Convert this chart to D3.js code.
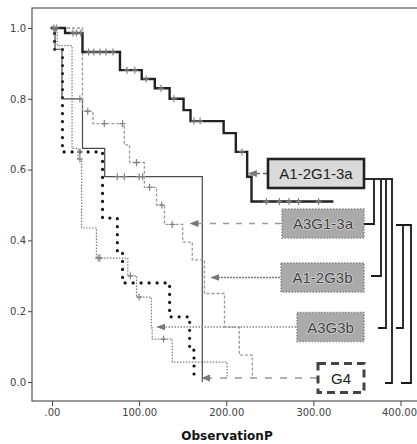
<!DOCTYPE html>
<html>
<head>
<meta charset="utf-8">
<script src="https://d3js.org/d3.v7.min.js"></script>
<style>
  body { margin: 0; background: #fff; }
  text { font-family: "DejaVu Sans", sans-serif; }
</style>
</head>
<body>
<div id="chart"></div>
<script>
// ---- data (time, survival) ----
var groups = ["A1-2G1-3a", "A3G1-3a", "A1-2G3b", "A3G3b", "G4"];

var timesA12G13a = [0, 15, 35, 78, 103, 118, 135, 151, 159, 197, 211, 224, 229, 323];
var survA12G13a  = [1.0, 0.986, 0.932, 0.881, 0.856, 0.83, 0.80, 0.768, 0.737, 0.703, 0.65, 0.58, 0.51, 0.51];
var censA12G13a  = [2, 5, 24, 28, 33, 42, 48, 55, 62, 70, 86, 95, 108, 125, 140, 163, 170, 218, 246, 261, 272, 283, 306];

var timesA3G13a = [0, 35, 47, 83, 89, 106, 120, 129, 150, 161, 175, 198, 215, 230];
var survA3G13a  = [1.0, 0.765, 0.73, 0.67, 0.62, 0.55, 0.50, 0.445, 0.395, 0.345, 0.25, 0.155, 0.076, 0.01];
var censA3G13a  = [41, 60, 81, 97, 112, 126, 138];

var timesA12G3b = [0, 3.5, 11.5, 35, 60.5, 172.5];
var survA12G3b  = [1.0, 0.94, 0.80, 0.66, 0.58, 0.0];
var censA12G3b  = [32, 75, 83, 100, 104];

var timesA3G3b = [0, 6, 23, 30, 34, 51, 87, 97, 114, 115, 138, 201];
var survA3G3b  = [1.0, 0.95, 0.66, 0.63, 0.435, 0.35, 0.30, 0.24, 0.153, 0.121, 0.056, 0.015];
var censA3G3b  = [32, 53, 55, 90, 100, 128];

var timesG4 = [0, 3, 12, 58, 75, 81, 135, 158, 163];
var survG4  = [1.0, 0.94, 0.65, 0.463, 0.37, 0.28, 0.184, 0.09, 0.01];
var censG4  = [32];

// where each label's arrow points (time on the x axis)
var arrowTimes = [226, 159, 183, 121, 172.5];

var xTicks = [0, 100, 200, 300, 400];
var yTicks = [0, 0.2, 0.4, 0.6, 0.8, 1.0];

// ---- layout ----
var W = 417, H = 444;
var svg = d3.select("#chart").append("svg")
    .attr("width", W).attr("height", H);

var x = d3.scaleLinear().domain([0, 400]).range([52, 400.5]);
var y = d3.scaleLinear().domain([0, 1]).range([382, 28]);

var frame = {left: 32, top: 8, bottom: 401, right: 421};

svg.append("rect")
    .attr("x", frame.left).attr("y", frame.top)
    .attr("width", frame.right - frame.left)
    .attr("height", frame.bottom - frame.top)
    .attr("fill", "none").attr("stroke", "#555").attr("stroke-width", 1.2);

// axes
var yAxis = svg.append("g")
    .attr("transform", "translate(" + frame.left + ",0)")
    .call(d3.axisLeft(y).tickValues(yTicks).tickSize(4).tickPadding(2).tickFormat(d3.format(".1f")));
var xAxis = svg.append("g")
    .attr("transform", "translate(0," + frame.bottom + ")")
    .call(d3.axisBottom(x).tickValues(xTicks).tickSize(5).tickPadding(3)
        .tickFormat(function(d) { return d === 0 ? ".00" : d.toFixed(2); }));
[xAxis, yAxis].forEach(function(a) {
    a.select(".domain").remove();
    a.selectAll("line").attr("stroke", "#444");
    a.selectAll("text").attr("fill", "#444").style("font-size", "10px");
});
// keep the last x label inside the window
xAxis.selectAll(".tick text").filter(function(d) { return d === 400; })
    .attr("text-anchor", "end").attr("dx", "16");

svg.append("text")
    .attr("x", 227).attr("y", 440)
    .attr("text-anchor", "middle")
    .style("font-size", "12px").style("font-weight", "bold")
    .attr("fill", "#111")
    .text("ObservationP");

// ---- curves ----
var series = [
    {t: timesA12G13a, s: survA12G13a, c: censA12G13a, stroke: "#222", width: 2.4, dash: null, cap: "butt"},
    {t: timesA3G13a,  s: survA3G13a,  c: censA3G13a,  stroke: "#9a9a9a", width: 1.3, dash: "3,2", cap: "butt"},
    {t: timesA12G3b,  s: survA12G3b,  c: censA12G3b,  stroke: "#4a4a4a", width: 1.2, dash: null, cap: "butt"},
    {t: timesA3G3b,   s: survA3G3b,   c: censA3G3b,   stroke: "#7a7a7a", width: 1.2, dash: "1.5,1.5", cap: "butt"},
    {t: timesG4,      s: survG4,      c: censG4,      stroke: "#111", width: 3.2, dash: "0,8", cap: "round"}
];

var line = d3.line()
    .x(function(d) { return x(d[0]); })
    .y(function(d) { return y(d[1]); })
    .curve(d3.curveStepAfter);

function survAt(sr, t) {
    var v = sr.s[0];
    for (var i = 0; i < sr.t.length; i++) if (sr.t[i] <= t) v = sr.s[i];
    return v;
}

// draw back to front: G4 first, thick line last
series.slice().reverse().forEach(function(sr) {
    var pts = sr.t.map(function(t, i) { return [t, sr.s[i]]; });
    svg.append("path")
        .attr("d", line(pts))
        .attr("fill", "none")
        .attr("stroke", sr.stroke)
        .attr("stroke-width", sr.width)
        .attr("stroke-linecap", sr.cap)
        .attr("stroke-dasharray", sr.dash);

    var g = svg.append("g").attr("stroke", "#808080").attr("stroke-width", 1.2);
    sr.c.forEach(function(t) {
        var cx = x(t), cy = y(survAt(sr, t));
        g.append("line").attr("x1", cx).attr("x2", cx).attr("y1", cy - 3.5).attr("y2", cy + 3.5);
        g.append("line").attr("x1", cx - 3).attr("x2", cx + 3).attr("y1", cy).attr("y2", cy);
    });
});

// ---- labels with arrows ----
var defs = svg.append("defs");
defs.append("marker")
    .attr("id", "head")
    .attr("markerUnits", "userSpaceOnUse")
    .attr("viewBox", "0 -4 9 8")
    .attr("refX", 8).attr("refY", 0)
    .attr("markerWidth", 9).attr("markerHeight", 8)
    .attr("orient", "auto")
    .append("path").attr("d", "M0,-3.5L9,0L0,3.5Z").attr("fill", "#777");

var boxes = [
    {x0: 268, cy: 173.5, fill: "#dadada", stroke: "#222", sw: 2.6, bdash: null, tcol: "#222", adash: "4,3", acol: "#666"},
    {x0: 282, cy: 223.5, fill: "#aaaaaa", stroke: "#888", sw: 1.5, bdash: "1.5,1.5", tcol: "#3a3a3a", adash: "6,7", acol: "#999"},
    {x0: 281, cy: 277.5, fill: "#aaaaaa", stroke: "#888", sw: 1.5, bdash: "1.5,1.5", tcol: "#3a3a3a", adash: "2,1", acol: "#777"},
    {x0: 297, cy: 327,   fill: "#aaaaaa", stroke: "#888", sw: 1.5, bdash: "1.5,1.5", tcol: "#3a3a3a", adash: "1.5,1.5", acol: "#888"},
    {x0: 318, cy: 378,   fill: "#ffffff", stroke: "#444", sw: 3,   bdash: "8,5", tcol: "#222", adash: "7,8", acol: "#999"}
];
var boxRight = 364, boxH = 29;

boxes.forEach(function(b, i) {
    svg.append("line")
        .attr("x1", b.x0 - 1).attr("y1", b.cy)
        .attr("x2", x(arrowTimes[i])).attr("y2", b.cy)
        .attr("stroke", b.acol).attr("stroke-width", 1.3)
        .attr("stroke-dasharray", b.adash)
        .attr("marker-end", "url(#head)");
    svg.append("rect")
        .attr("x", b.x0).attr("y", b.cy - boxH / 2)
        .attr("width", boxRight - b.x0).attr("height", boxH)
        .attr("fill", b.fill).attr("stroke", b.stroke)
        .attr("stroke-width", b.sw).attr("stroke-dasharray", b.bdash);
    svg.append("text")
        .attr("x", (b.x0 + boxRight) / 2).attr("y", b.cy + 5.5)
        .attr("text-anchor", "middle")
        .style("font-family", "'Liberation Sans', Arial, sans-serif")
        .style("font-size", "15px")
        .attr("fill", b.tcol)
        .attr("stroke", i === 0 || i === 4 ? null : "#e4e4e4")
        .attr("stroke-width", 1.2)
        .attr("paint-order", "stroke")
        .text(groups[i]);
});

// ---- comparison brackets on the right ----
var brackets = [
    "M364,179H393",
    "M364,224H374V179",
    "M371,276H381V179",
    "M378,328H386V179",
    "M385,383H392V179",
    "M396,225H411V383H401",
    "M403,225V328H396"
];
svg.append("g").selectAll("path").data(brackets).join("path")
    .attr("d", function(d) { return d; })
    .attr("fill", "none").attr("stroke", "#1a1a1a").attr("stroke-width", 1.8);
</script>
</body>
</html>
